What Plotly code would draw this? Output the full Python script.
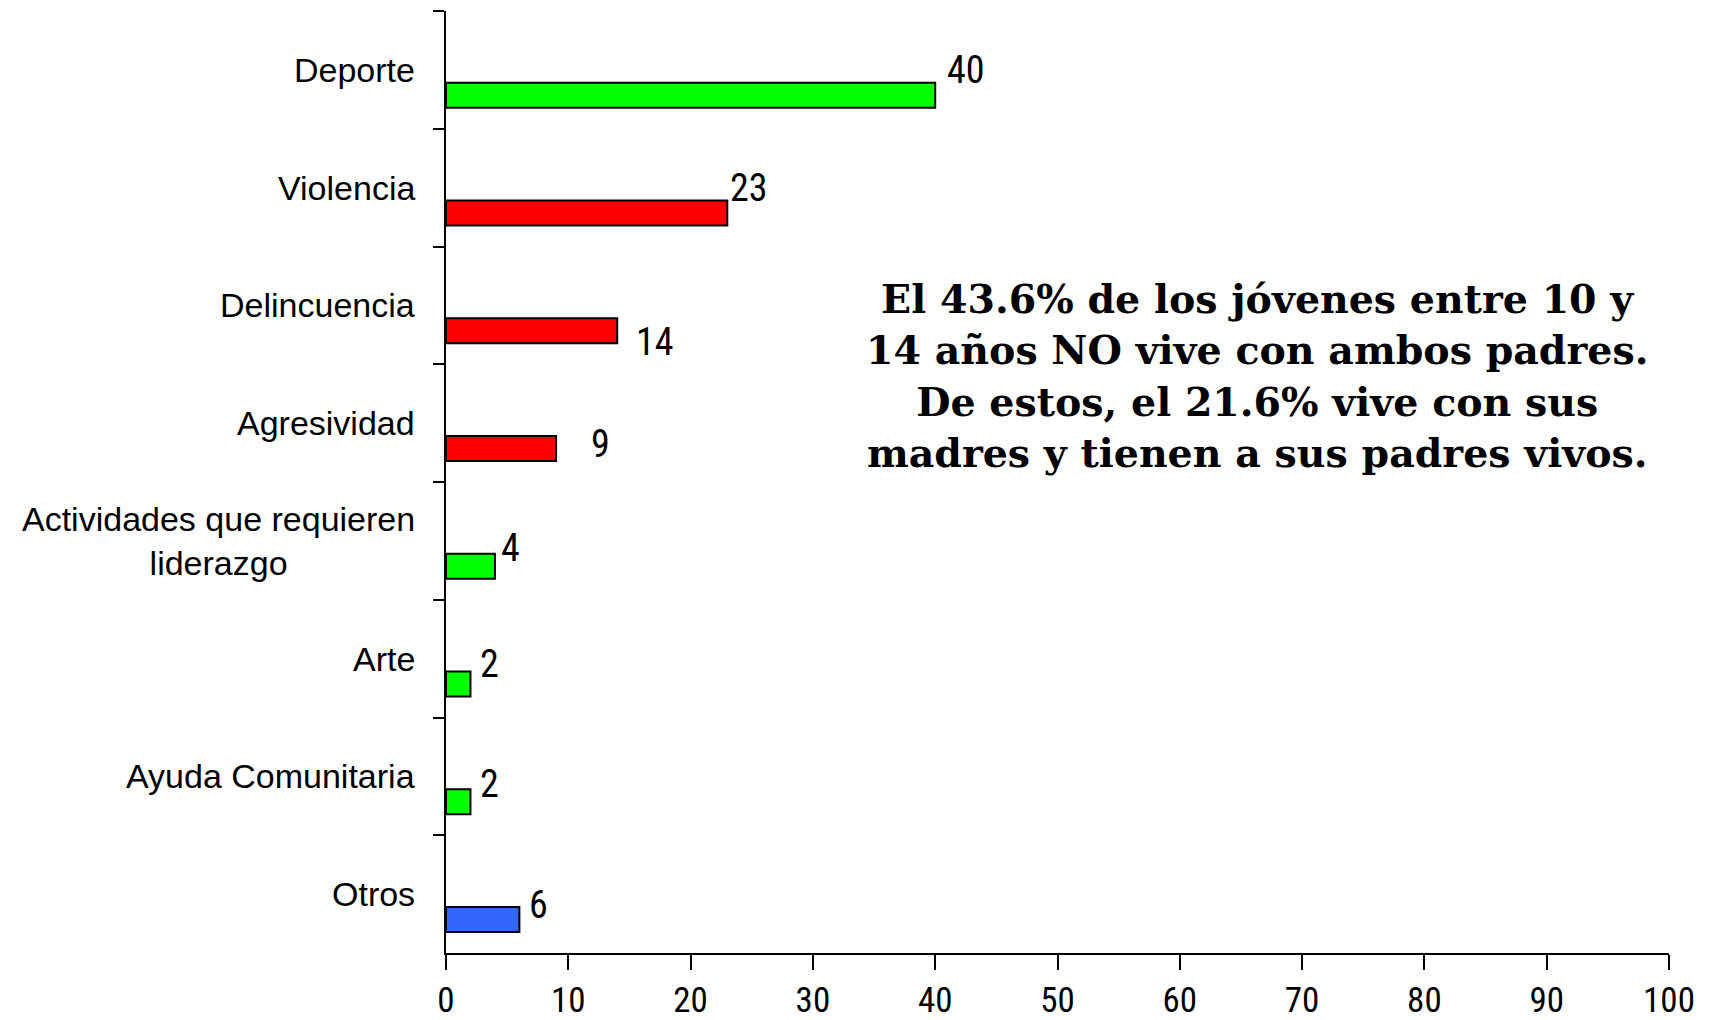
import plotly.graph_objects as go

# ── Datos ───────────────────────────────────────────────────────
categorias = [
    "Deporte",
    "Violencia",
    "Delincuencia",
    "Agresividad",
    "Actividades que requieren<br>liderazgo",
    "Arte",
    "Ayuda Comunitaria",
    "Otros",
]
valores = [40, 23, 14, 9, 4, 2, 2, 6]
colores = ["#00ff00", "#ff0000", "#ff0000", "#ff0000",
           "#00ff00", "#00ff00", "#00ff00", "#3366ff"]
x_ticks = [0, 10, 20, 30, 40, 50, 60, 70, 80, 90, 100]

nota = [
    "El 43.6% de los jóvenes entre 10 y",
    "14 años NO vive con ambos padres.",
    "De estos, el 21.6% vive con sus",
    "madres y tienen a sus padres vivos.",
]

# desplazamientos de las etiquetas de valor (px)
label_dx = [10, 1, 17, 33, 4, 8, 8, 8]
label_dy = [0, 0, -37, -21, -7, -5, -8, -11]

NARROW = "Roboto Condensed, Liberation Sans Narrow, Arial Narrow, sans-serif"
SANS = "Liberation Sans, Arial, sans-serif"
SERIF = "DejaVu Serif, serif"

fig = go.Figure()
fig.add_trace(go.Bar(
    x=valores,
    y=categorias,
    orientation="h",
    width=0.212,
    offset=0.109,
    marker=dict(color=colores, line=dict(color="black", width=2)),
    hoverinfo="x+y",
))

# etiquetas de categoria
for cat in categorias:
    fig.add_annotation(
        x=0, xref="paper", y=cat, yref="y",
        text=cat, showarrow=False,
        xanchor="right", yanchor="middle", align="center",
        xshift=-29,
        font=dict(family=SANS, size=34, color="black"),
    )

# etiquetas de valor
for cat, v, dx, dy in zip(categorias, valores, label_dx, label_dy):
    fig.add_annotation(
        x=v, y=cat, text=str(v), showarrow=False,
        xanchor="left", yanchor="middle",
        xshift=dx, yshift=dy,
        font=dict(family=NARROW, size=38, color="black"),
    )

# nota de texto
fig.add_annotation(
    x=0.663, xref="paper", y=0.612, yref="paper",
    text="<b>" + "<br>".join(nota) + "</b>", showarrow=False,
    xanchor="center", yanchor="middle", align="center",
    font=dict(family=SERIF, size=39.5, color="black"),
)

fig.update_layout(
    width=1709,
    height=1012,
    paper_bgcolor="white",
    plot_bgcolor="white",
    showlegend=False,
    margin=dict(l=438, r=48, t=3, b=67),
    xaxis=dict(
        range=[0, 100],
        tickvals=x_ticks,
        automargin=False,
        showgrid=False,
        zeroline=False,
        showline=True,
        linecolor="black",
        linewidth=2,
        ticks="outside",
        ticklen=15,
        tickwidth=2,
        tickcolor="black",
        ticklabelstandoff=0,
        tickfont=dict(family=NARROW, size=35, color="black"),
    ),
    yaxis=dict(
        type="category",
        range=[7.5, -0.5],
        automargin=False,
        showgrid=False,
        zeroline=False,
        showline=True,
        linecolor="black",
        linewidth=2,
        ticks="outside",
        tickson="boundaries",
        ticklen=11,
        tickwidth=2,
        tickcolor="black",
        showticklabels=False,
    ),
)

fig.write_html("out.html")
